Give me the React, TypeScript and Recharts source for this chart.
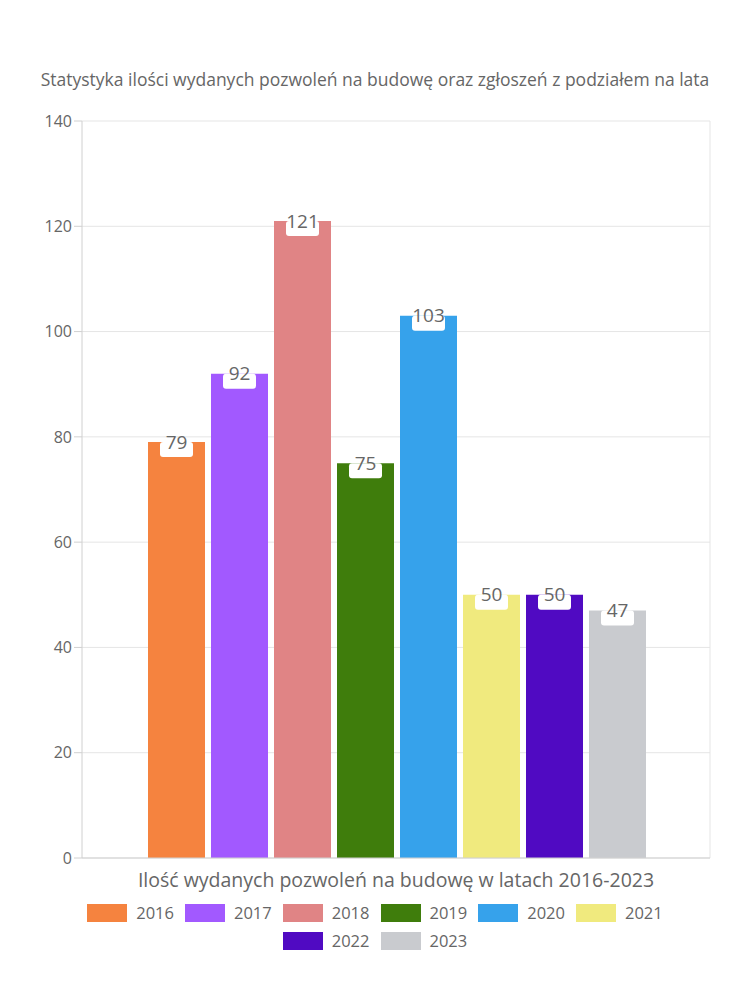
import React from 'react';
import { BarChart, Bar, XAxis, YAxis, CartesianGrid, LabelList } from 'recharts';

const years = ['2016', '2017', '2018', '2019', '2020', '2021', '2022', '2023'];
const values = [79, 92, 121, 75, 103, 50, 50, 47];
const colors = ['#F5833F', '#A259FF', '#E08485', '#3F7D0C', '#36A2EB', '#F0EA7E', '#500AC2', '#C9CBCF'];
const yTicks = [0, 20, 40, 60, 80, 100, 120, 140];
const title = 'Statystyka ilości wydanych pozwoleń na budowę oraz zgłoszeń z podziałem na lata';
const xLabel = 'Ilość wydanych pozwoleń na budowę w latach 2016-2023';

const row: Record<string, number | string> = { name: 'all' };
years.forEach((y, i) => {
  row['y' + y] = values[i];
});
const data = [row];

const FONT = '"Open Sans", sans-serif';
const TXT = '#666666';

const BarLabel = (props: any) => {
  const { x, y, width, value } = props;
  const cx = x + width / 2;
  return (
    <g>
      <rect x={cx - 16.5} y={y} width={33} height={15} rx={3} ry={3} fill="#ffffff" />
      <text x={cx} y={y + 6.5} textAnchor="middle" fontSize={19} fill={TXT} fontFamily={FONT}>
        {value}
      </text>
    </g>
  );
};

const LegendBlock = () => (
  <div
    style={{
      position: 'absolute',
      left: 75,
      top: 899,
      width: 600,
      display: 'flex',
      flexWrap: 'wrap',
      justifyContent: 'center',
      columnGap: 11,
      fontFamily: FONT,
    }}
  >
    {years.map((y, i) => (
      <div key={y} style={{ display: 'flex', alignItems: 'center', height: 28 }}>
        <div style={{ width: 40, height: 18, background: colors[i], marginRight: 9 }} />
        <span style={{ fontSize: 16.5, color: TXT, lineHeight: '28px' }}>{y}</span>
      </div>
    ))}
  </div>
);

export default function App() {
  return (
    <div style={{ position: 'absolute', left: 0, top: 0, width: 750, height: 1000, background: '#fff' }}>
      <div
        style={{
          position: 'absolute',
          left: 0,
          top: 66,
          width: 750,
          textAlign: 'center',
          fontFamily: FONT,
          fontSize: 17.5,
          lineHeight: '26px',
          color: TXT,
        }}
      >
        {title}
      </div>
      <BarChart
        width={750}
        height={1000}
        data={data}
        margin={{ top: 121, right: 40, bottom: 102, left: 0 }}
        barCategoryGap={66}
        barGap={6}
      >
        <CartesianGrid
          stroke="#e5e5e5"
          verticalCoordinatesGenerator={({ offset }: any) => [offset.left + offset.width]}
        />
        <XAxis
          dataKey="name"
          tick={false}
          tickLine={false}
          axisLine={{ stroke: '#d0d0d0' }}
          height={40}
          label={{
            value: xLabel,
            position: 'insideBottom',
            offset: 11,
            fontSize: 19.5,
            fill: TXT,
            fontFamily: FONT,
          }}
        />
        <YAxis
          domain={[0, 140]}
          ticks={yTicks}
          width={82}
          tickSize={8}
          tickLine={{ stroke: '#d0d0d0' }}
          axisLine={{ stroke: '#d0d0d0' }}
          tick={{ fontSize: 16, fill: TXT, fontFamily: FONT }}
          interval={0}
        />
        {years.map((y, i) => (
          <Bar key={y} dataKey={'y' + y} name={y} fill={colors[i]} isAnimationActive={false}>
            <LabelList dataKey={'y' + y} content={<BarLabel />} />
          </Bar>
        ))}
      </BarChart>
      <LegendBlock />
    </div>
  );
}
